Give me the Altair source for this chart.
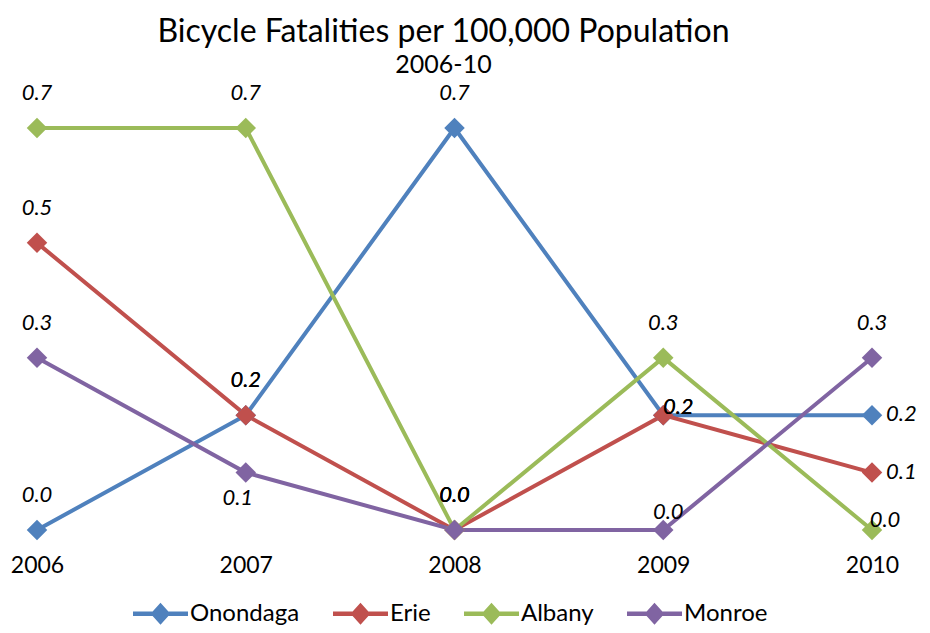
import altair as alt
import pandas as pd

years = [2006, 2007, 2008, 2009, 2010]
series = ["Onondaga", "Erie", "Albany", "Monroe"]
onondaga = [0.0, 0.2, 0.7, 0.2, 0.2]
erie = [0.5, 0.2, 0.0, 0.2, 0.1]
albany = [0.7, 0.7, 0.0, 0.3, 0.0]
monroe = [0.3, 0.1, 0.0, 0.0, 0.3]
colors = ["#4F81BD", "#C0504D", "#9BBB59", "#8064A2"]

# label placement kinds (default "above")
placements = {
    ("Monroe", 2007): "below",
    ("Onondaga", 2010): "right",
    ("Erie", 2010): "right",
    ("Albany", 2010): "rightup",
    ("Onondaga", 2009): "near",
    ("Erie", 2009): "near",
    ("Monroe", 2009): "nearlow",
}

rows = []
for name, vals in zip(series, [onondaga, erie, albany, monroe]):
    for y, v in zip(years, vals):
        rows.append({"series": name, "year": str(y), "value": v,
                     "place": placements.get((name, y), "above")})
df = pd.DataFrame(rows)

FONT = "Lato"
color = alt.Color(
    "series:N",
    scale=alt.Scale(domain=series, range=colors),
    legend=alt.Legend(
        orient="none", legendX=96, legendY=458,
        direction="horizontal", title=None,
        symbolType="M-1,-0.08L1,-0.08L1,0.08L-1,0.08Z M0,-0.4L0.36,0L0,0.4L-0.36,0Z",
        symbolSize=3025, symbolStrokeWidth=0, symbolOpacity=1,
        labelFont=FONT, labelFontSize=24, labelColor="black",
        labelOffset=2, columnPadding=33, labelLimit=300,
    ),
)

x = alt.X("year:O", scale=alt.Scale(type="point", padding=0),
          axis=alt.Axis(title=None, labelAngle=0, ticks=False, domain=False,
                        labelFont=FONT, labelFontSize=23, labelColor="black",
                        labelPadding=24))
y = alt.Y("value:Q", scale=alt.Scale(domain=[0, 0.7]), axis=None)

base = alt.Chart(df)
lines = base.mark_line(strokeWidth=4).encode(x=x, y=y, color=color,
                                              detail="series:N")
points = base.mark_point(shape="diamond", filled=True, size=420, opacity=1).encode(
    x=x, y=y, color=color)

specs = {
    "above": dict(dx=0, dy=-35, align="center"),
    "below": dict(dx=-8, dy=25, align="center"),
    "right": dict(dx=14, dy=-1, align="left"),
    "rightup": dict(dx=13, dy=-10, align="center"),
    "near": dict(dx=15, dy=-8, align="center"),
    "nearlow": dict(dx=5, dy=-18, align="center"),
}
texts = []
for kind, kw in specs.items():
    texts.append(
        base.transform_filter(alt.datum.place == kind)
        .mark_text(font=FONT, fontSize=22, fontStyle="italic", color="black",
                   baseline="middle", **kw)
        .encode(x=x, y=y, text=alt.Text("value:Q", format=".1f"))
    )

chart = alt.layer(lines, points, *texts).properties(
    width=835, height=402,
    autosize=alt.AutoSizeParams(type="none"),
    padding={"left": 29, "top": 120, "right": 50, "bottom": 95},
    title=alt.TitleParams(
        text="Bicycle Fatalities per 100,000 Population", subtitle="2006-10",
        font=FONT, subtitleFont=FONT, fontSize=32, subtitleFontSize=25,
        fontWeight="normal", color="black", subtitleColor="black",
        anchor="middle", offset=3, subtitlePadding=4, dx=-11,
    ),
).configure_view(strokeWidth=0)

chart.save("out.html", embed_options={"renderer": "svg", "actions": False})
